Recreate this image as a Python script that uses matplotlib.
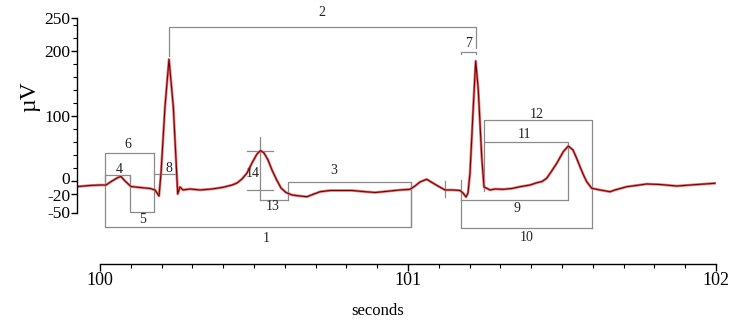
import matplotlib
matplotlib.use("Agg")
import matplotlib.pyplot as plt
from matplotlib.ticker import FixedLocator
from matplotlib.transforms import ScaledTranslation

plt.rcParams['font.family'] = ['Liberation Serif', 'DejaVu Serif']

# ECG trace (seconds, microvolts)
t = [99.9286, 99.9675, 100.0, 100.0195, 100.039, 100.0584, 100.0682, 100.0812, 100.1006,
     100.1299, 100.1623, 100.1786, 100.1916, 100.1981, 100.2110, 100.2240, 100.2380,
     100.2490, 100.2523, 100.2597, 100.2695, 100.2922, 100.3247, 100.3636, 100.3994,
     100.4286, 100.4448, 100.4610, 100.4773, 100.4935, 100.5097, 100.5211, 100.5325,
     100.5455, 100.5584, 100.5737, 100.5877, 100.6039, 100.6234, 100.6494, 100.6721,
     100.6948, 100.7143, 100.7468, 100.7792, 100.8182, 100.8539, 100.8929, 100.9416,
     100.9740, 101.0065, 101.0227, 101.0390, 101.0607, 101.0779, 101.0942, 101.1201,
     101.1461, 101.1688, 101.1786, 101.1883, 101.1948, 101.2013, 101.2120, 101.2198,
     101.2282, 101.2393, 101.2468, 101.2555, 101.2662, 101.2825, 101.3084, 101.3377,
     101.3636, 101.3961, 101.4188, 101.4351, 101.4503, 101.4643, 101.4828, 101.5042,
     101.5205, 101.5357, 101.5471, 101.5584, 101.5698, 101.5802, 101.5964, 101.6234,
     101.6558, 101.6721, 101.7101, 101.7403, 101.7750, 101.8182, 101.8724, 101.9156,
     101.9481, 101.9968]
uv = [-8.5, -6.9, -6.2, -6.2, 0.0, 5.4, 6.9, 0.0, -8.5,
      -10.0, -11.5, -13.8, -23.1, 12.3, 114.3, 187.2, 114.3,
      11.8, -20.0, -9.2, -13.8, -12.3, -13.8, -12.3, -9.7,
      -6.2, -3.1, 3.1, 12.3, 27.7, 41.5, 46.9, 43.1,
      32.3, 16.9, 1.5, -10.8, -17.7, -21.5, -23.1, -24.2,
      -20.0, -16.5, -14.6, -14.6, -14.6, -16.2, -17.7, -15.4,
      -13.8, -12.8, -7.7, -1.5, 2.6, -2.3, -6.9, -13.8,
      -13.8, -14.6, -18.5, -24.6, -18.5, 12.3, 114.3, 184.6,
      140.0, 37.4, -9.2, -11.2, -13.8, -12.3, -12.8, -11.5,
      -8.8, -6.2, -2.6, -0.8, 4.2, 13.8, 27.2, 45.1,
      53.8, 47.7, 35.4, 22.0, 9.2, -1.1, -11.2, -13.8,
      -16.5, -13.8, -8.8, -6.9, -4.6, -5.4, -7.7, -6.2,
      -5.1, -3.5]

x_major = [100, 101, 102]
y_major = [250, 200, 100, 0, -20, -50]

# Annotation brackets: polylines (times, values)
brackets = [
    ([100.017, 100.017, 101.0097, 101.0097], [-8, -70.3, -70.3, -1.1]),          # 1
    ([100.225, 100.225, 101.2198, 101.2198], [192, 236.5, 236.5, 205]),          # 2
    ([100.6094, 100.6094, 101.0097, 101.0097], [-29.2, -1.1, -1.1, -70.3]),      # 3
    ([100.017, 100.017, 100.0974, 100.0974], [0, 9.2, 9.2, 0]),                  # 4
    ([100.0974, 100.0974, 100.1763, 100.1763], [9.2, -47.2, -47.2, 42.6]),       # 5
    ([100.017, 100.017, 100.1763], [-8, 42.6, 42.6]),                            # 6
    ([101.1708, 101.1708, 101.2198, 101.2198], [195, 198.9, 198.9, 195]),        # 7
    ([100.1763, 100.249, 100.249], [10.8, 10.8, -5]),                            # 8
    ([101.1708, 101.5205], [-29.2, -29.2]),                                      # 9
    ([101.1708, 101.1708, 101.5984], [1.5, -72.8, -72.8]),                       # 10
    ([101.2477, 101.2477, 101.5205, 101.5205], [-15, 60.5, 60.5, -29.2]),        # 11
    ([101.2477, 101.2477, 101.5984, 101.5984], [60.5, 93.8, 93.8, -72.8]),       # 12
    ([100.5195, 100.6094], [-29.2, -29.2]),                                      # 13
    ([100.5195, 100.5195], [68.2, -29.2]),                                       # 14 vertical
    ([100.4763, 100.5627], [46.6, 46.6]),                                        # 14 top
    ([100.4763, 100.5627], [-13.8, -13.8]),                                      # 14 bottom
    ([101.1201, 101.1201], [0, -24]),                                            # tick
]
label_text = ['1', '2', '3', '4', '5', '6', '7', '8', '9', '10', '11', '12', '13', '14']
label_t = [100.539, 100.7208, 100.7597, 100.0617, 100.1373, 100.0899, 101.1981, 100.2224,
           101.3526, 101.3847, 101.3776, 101.4178, 100.5607, 100.4958]
label_v = [-87.7, 258.5, 16.9, 17.7, -60, 55.4, 210.8, 18.5, -42, -86.2, 70.8, 102.6, -40, 10.8]

W, H = 734, 320
fig = plt.figure(figsize=(W / 100, H / 100), dpi=100)
left_px, right_px, top_px, bot_px = 77, 716, 18.5, 264
ax = fig.add_axes([left_px / W, 1 - bot_px / H, (right_px - left_px) / W, (bot_px - top_px) / H])
ax.set_xlim(99.9253, 102.0)
ax.set_ylim(-127.7, 250)

for bt, bv in brackets:
    ax.plot(bt, bv, color='#8a8a8a', lw=0.9, clip_on=False, zorder=1)
for s, lt, lv in zip(label_text, label_t, label_v):
    ax.text(lt, lv, s, ha='center', va='center', fontsize=10, color='#222222', clip_on=False)

ax.plot(t, uv, color='#e07878', lw=1.9, zorder=2, solid_joinstyle='round')
ax.plot(t, uv, color='#7a0000', lw=0.8, zorder=3, solid_joinstyle='round')

for s in ['top', 'right']:
    ax.spines[s].set_visible(False)
ax.spines['left'].set_bounds(-50, 250)
ax.spines['bottom'].set_bounds(100, 102)
ax.spines['left'].set_linewidth(1.0)
ax.spines['bottom'].set_linewidth(1.0)

ax.set_xticks(x_major)
ax.set_xticklabels([str(v) for v in x_major])
ax.xaxis.set_minor_locator(FixedLocator([100 + i / 10 for i in range(21) if i % 10 != 0]))
ax.set_yticks(y_major)
ax.set_yticklabels([str(v) for v in y_major])
ax.yaxis.set_minor_locator(FixedLocator([v for v in range(20, 250, 20) if v not in (100, 200)]))

ax.tick_params(axis='x', which='major', direction='out', length=5, width=1, labelsize=13, pad=1)
ax.tick_params(axis='x', which='minor', direction='out', length=3, width=0.8)
ax.tick_params(axis='y', which='major', direction='out', length=4, width=1, labelsize=12.5, pad=1)
ax.tick_params(axis='y', which='minor', direction='out', length=3, width=0.8)

# nudge crowded labels near zero apart slightly
offsets = {'0': 2.5, '-20': -1.5, '-50': 1.0}
for lab in ax.get_yticklabels():
    dy = offsets.get(lab.get_text(), 0)
    if dy:
        lab.set_transform(lab.get_transform() + ScaledTranslation(0, dy / 100, fig.dpi_scale_trans))

fig.text(30 / W, 1 - 97 / H, 'µV', rotation=90, ha='center', va='center', fontsize=17)
fig.text(378 / W, 1 - 311 / H, 'seconds', ha='center', va='center', fontsize=12)

fig.savefig('out.png', dpi=100)
